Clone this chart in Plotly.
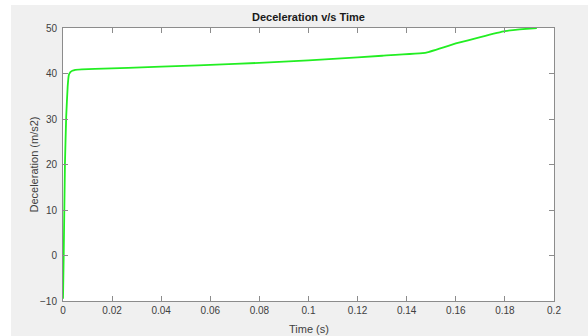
import plotly.graph_objects as go

# Deceleration history of the impact run
time_s = [0, 0.0003, 0.0008, 0.0013, 0.0019, 0.0024, 0.003, 0.0038, 0.005, 0.0076,
          0.013, 0.04, 0.07, 0.09, 0.11, 0.13, 0.148, 0.16, 0.17, 0.18, 0.186, 0.193]
decel = [-9.5, 0.5, 20.3, 30.5, 37.1, 39.7, 40.3, 40.6, 40.8, 40.9,
         41.0, 41.5, 42.1, 42.6, 43.2, 43.9, 44.6, 46.6, 48.0, 49.3, 49.7, 50.0]

x_ticks = [0, 0.02, 0.04, 0.06, 0.08, 0.1, 0.12, 0.14, 0.16, 0.18, 0.2]
y_ticks = [-10, 0, 10, 20, 30, 40, 50]

W, H = 588, 336
L, R, T, B = 63, 34, 28, 35
FONT = "Liberation Sans, Arial, sans-serif"
TXT = "#404040"
AX = "#8c8c8c"

fig = go.Figure()
fig.add_trace(go.Scatter(
    x=time_s, y=decel, mode="lines",
    line=dict(color="#22ee22", width=1.8, shape="spline", smoothing=0.25),
    showlegend=False, hoverinfo="x+y",
))

axis_common = dict(
    showline=True, linecolor=AX, linewidth=1, mirror="ticks",
    ticks="inside", ticklen=5, tickcolor=AX, tickwidth=1,
    showgrid=False, zeroline=False,
    tickfont=dict(family=FONT, size=10, color=TXT),
)

fig.update_layout(
    width=W, height=H,
    margin=dict(l=L, r=R, t=T, b=B, pad=0),
    paper_bgcolor="#f0f0f0", plot_bgcolor="white",
    xaxis=dict(range=[0, 0.2], tickvals=x_ticks,
               ticktext=[("%g" % v) for v in x_ticks], **axis_common),
    yaxis=dict(range=[-10, 50], tickvals=y_ticks, ticklabelstandoff=3, **axis_common),
    title=dict(text="<b>Deceleration v/s Time</b>", x=(L + (W - L - R) / 2) / W,
               xanchor="center", y=1 - 17 / H, yanchor="middle",
               font=dict(family=FONT, size=11, color="#1a1a1a")),
    annotations=[
        dict(text="Time (s)", xref="paper", yref="paper",
             x=0.5, y=-(329 - (H - B)) / (H - T - B), xanchor="center", yanchor="middle",
             showarrow=False, font=dict(family=FONT, size=11, color=TXT)),
        dict(text="Deceleration (m/s2)", xref="paper", yref="paper", textangle=-90,
             x=-(L - 33) / (W - L - R), y=0.5, xanchor="center", yanchor="middle",
             showarrow=False, font=dict(family=FONT, size=11, color=TXT)),
    ],
    shapes=[
        # white frame strips at the top and left edge of the figure
        dict(type="rect", xref="paper", yref="paper", layer="above", line_width=0,
             fillcolor="white", x0=-L / (W - L - R), x1=(W - L) / (W - L - R),
             y0=(H - B - 5) / (H - T - B), y1=(H - B) / (H - T - B)),
        dict(type="rect", xref="paper", yref="paper", layer="above", line_width=0,
             fillcolor="white", x0=-L / (W - L - R), x1=-(L - 11) / (W - L - R),
             y0=-B / (H - T - B), y1=(H - B) / (H - T - B)),
    ],
)

fig.write_html("out.html")
